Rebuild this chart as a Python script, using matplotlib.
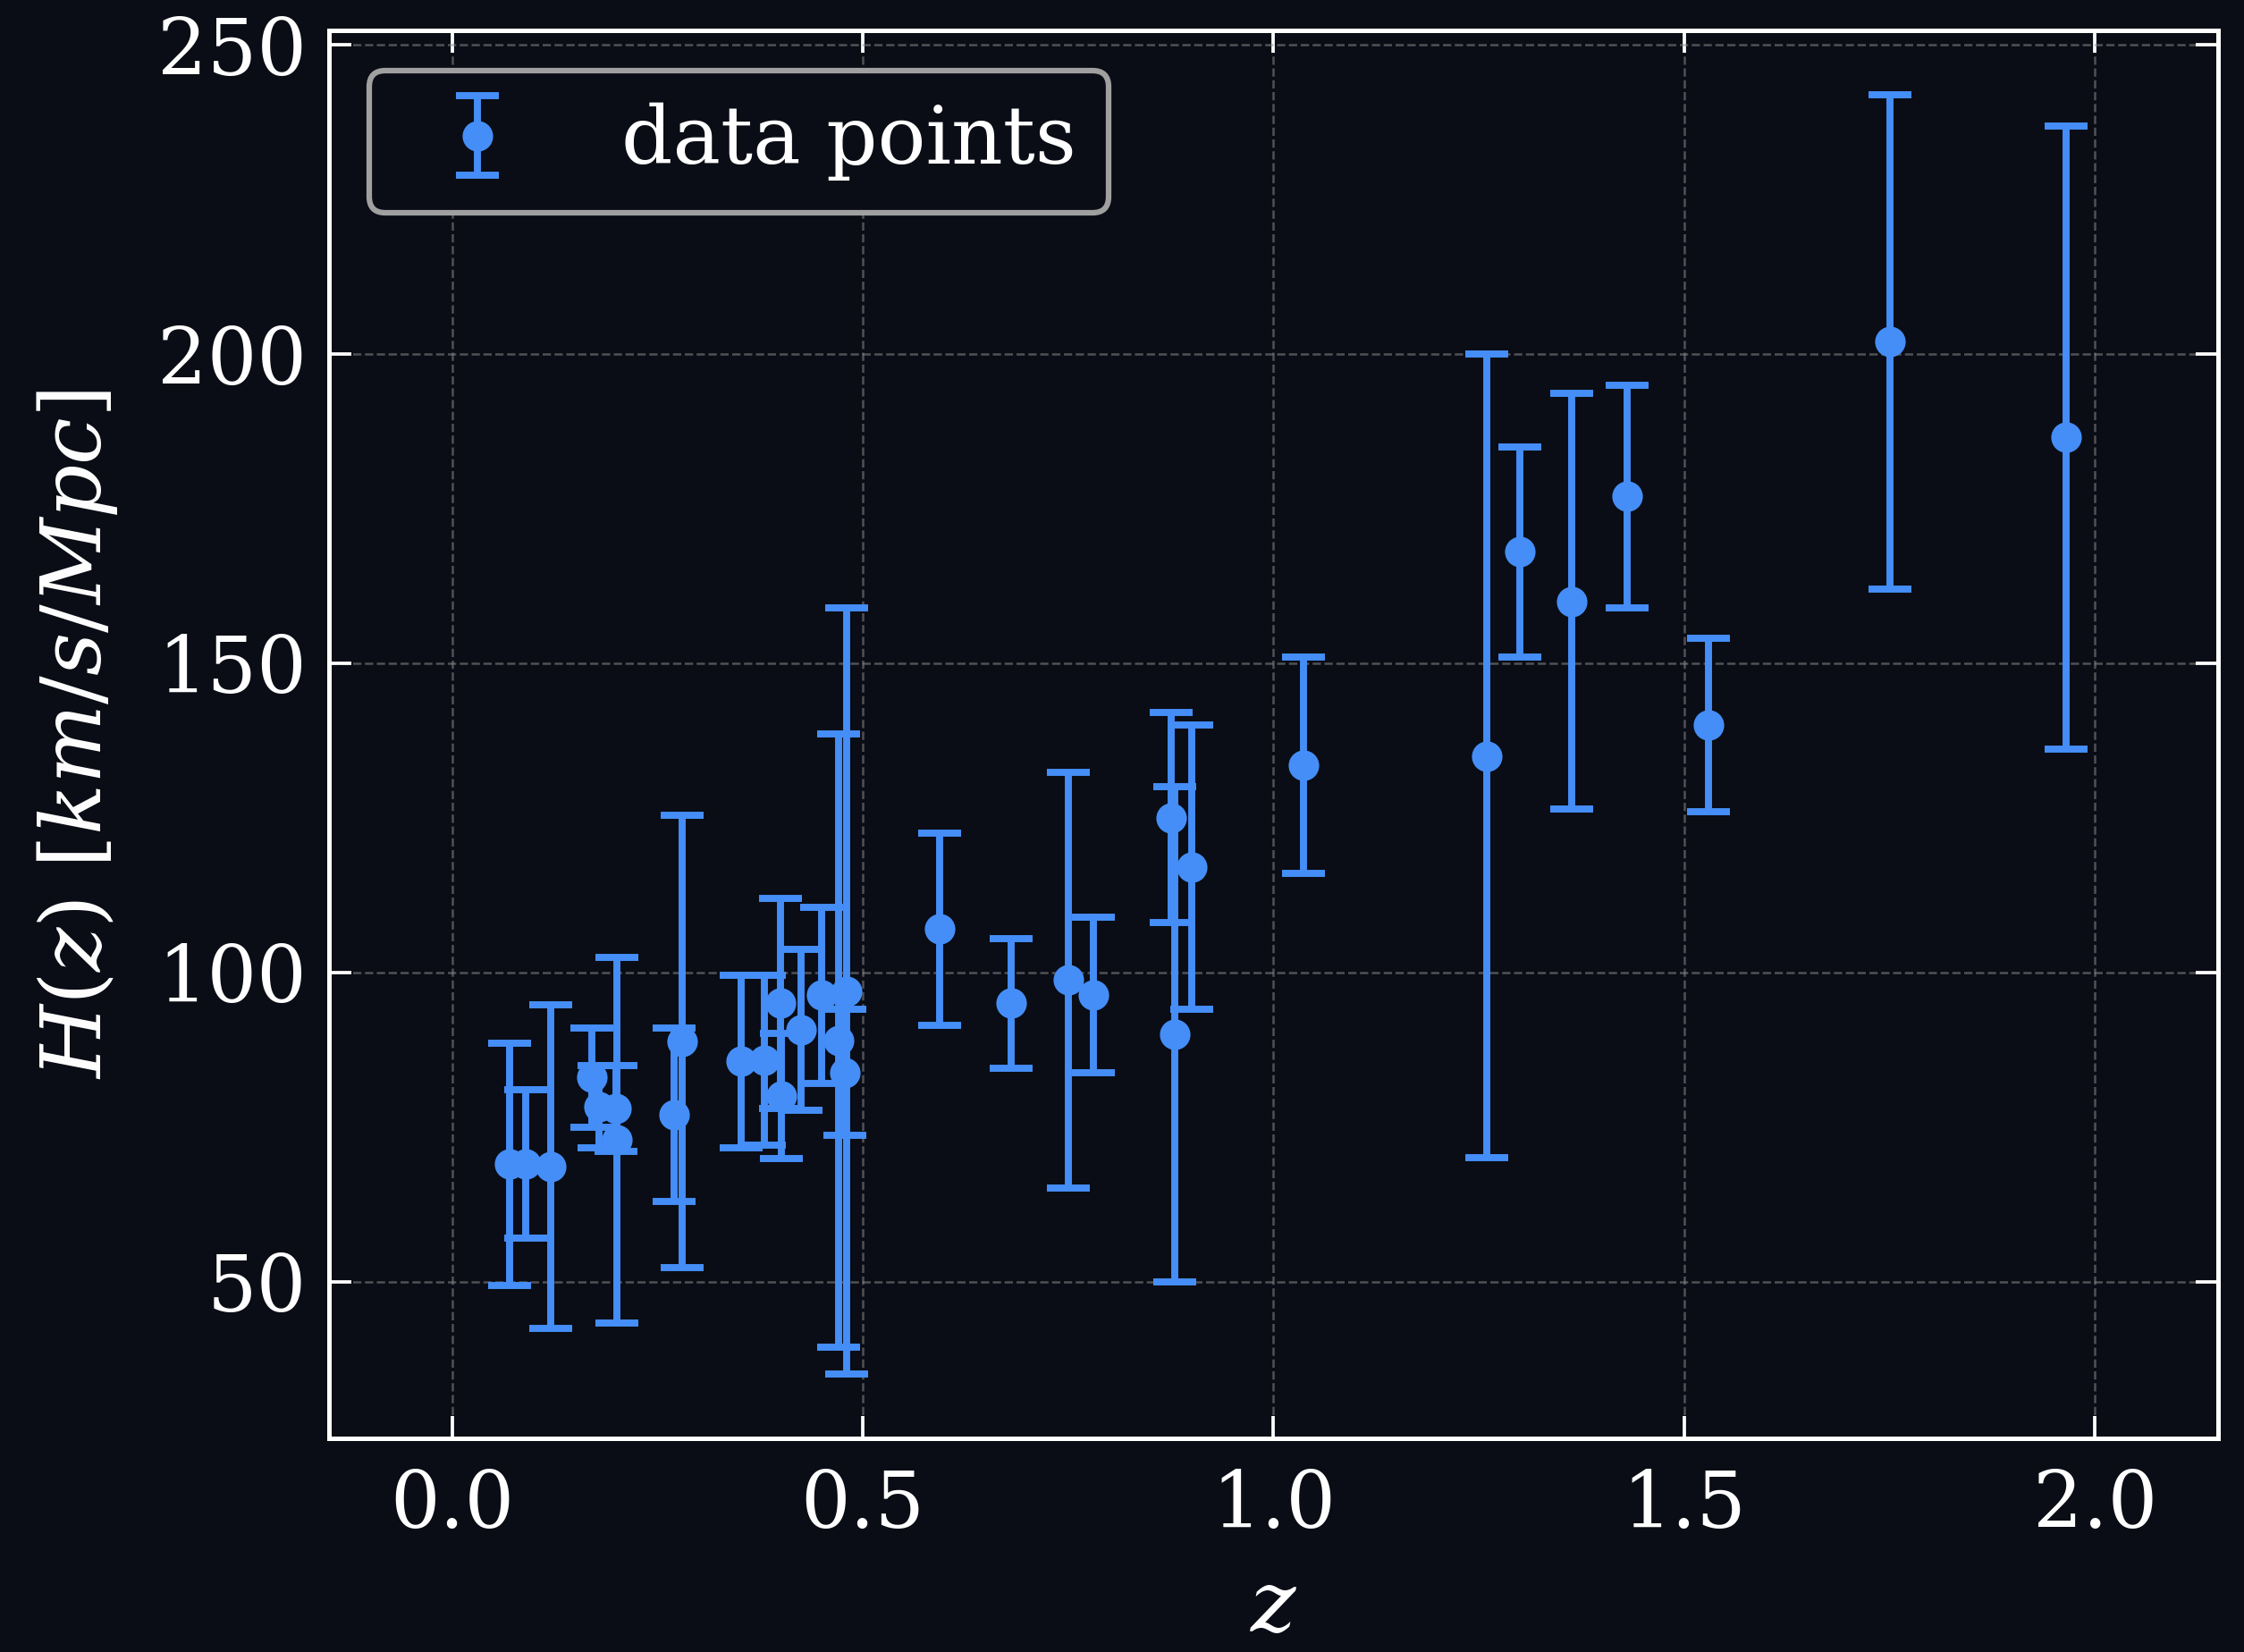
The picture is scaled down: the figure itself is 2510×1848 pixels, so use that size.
import matplotlib
matplotlib.use("Agg")
import matplotlib.pyplot as plt

# ---- data ----
z = [0.07, 0.09, 0.12, 0.17, 0.179, 0.199, 0.20, 0.27, 0.28, 0.352, 0.3802,
     0.40, 0.4004, 0.4247, 0.4497, 0.47, 0.4783, 0.48, 0.593, 0.68, 0.75,
     0.781, 0.875, 0.88, 0.90, 1.037, 1.26, 1.30, 1.363, 1.43, 1.53, 1.75, 1.965]
H = [69.0, 69.0, 68.6, 83.0, 78.3, 78.0, 72.9, 77.0, 88.8, 85.6, 85.8,
     95.0, 80.0, 90.7, 96.3, 89.0, 83.8, 97.0, 107.0, 95.0, 98.8,
     96.4, 125.0, 90.0, 117.0, 133.5, 135.0, 168.0, 160.0, 177.0, 140.0, 202.0, 186.5]
sigma = [19.6, 12.0, 26.2, 8.0, 6.7, 6.9, 29.6, 14.0, 36.6, 14.0, 13.8,
         17.0, 10.1, 13.0, 14.2, 49.6, 10.2, 62.0, 15.5, 10.5, 33.6,
         12.6, 17.0, 40.0, 23.0, 17.5, 65.0, 17.0, 33.6, 18.0, 14.0, 40.0, 50.4]
xticks = [0.0, 0.5, 1.0, 1.5, 2.0]
yticks = [50, 100, 150, 200, 250]
series_label = "data points"

BG = "#0a0d15"
BLUE = "#458ef7"

plt.rcParams["font.family"] = ["DejaVu Serif"]
plt.rcParams["mathtext.fontset"] = "dejavuserif"

fig = plt.figure(figsize=(2511 / 300, 1848 / 300), dpi=300, facecolor=BG)
ax = fig.add_axes([368 / 2511, 1 - 1609 / 1848, (2481 - 368) / 2511, (1609 - 34) / 1848])
ax.set_facecolor(BG)

ax.errorbar(z, H, yerr=sigma, fmt="o", color=BLUE, ecolor=BLUE, ms=7.2,
            elinewidth=1.9, capsize=5.7, capthick=1.9, label=series_label, zorder=3)

ax.set_xlim(-0.15, 2.15)
ax.set_xticks(xticks)
ax.set_yticks(yticks)

for s in ax.spines.values():
    s.set_color("white")
    s.set_linewidth(1.2)

ax.tick_params(axis="both", which="both", direction="in", top=True, right=True,
               colors="white", labelsize=21, length=6, width=0.9)
ax.tick_params(axis="x", pad=8)
ax.tick_params(axis="y", pad=6)

ax.grid(True, linestyle="--", color="#8a8a8a", linewidth=0.6, alpha=0.55, zorder=0)

ax.set_xlabel(r"$z$", color="white", fontsize=23, labelpad=6)
ax.set_ylabel(r"$H(z)\ [km/s/Mpc]$", color="white", fontsize=22.6, labelpad=10)

leg = ax.legend(loc="upper left", fontsize=21.5, frameon=True, fancybox=True,
                borderpad=0.4, handlelength=1.9, handletextpad=0.85,
                borderaxespad=0.5)
frame = leg.get_frame()
frame.set_facecolor(BG)
frame.set_edgecolor("#a0a0a0")
frame.set_linewidth(1.5)
frame.set_alpha(1.0)
for t in leg.get_texts():
    t.set_color("white")

fig.savefig("out.png", dpi=300, facecolor=BG)
